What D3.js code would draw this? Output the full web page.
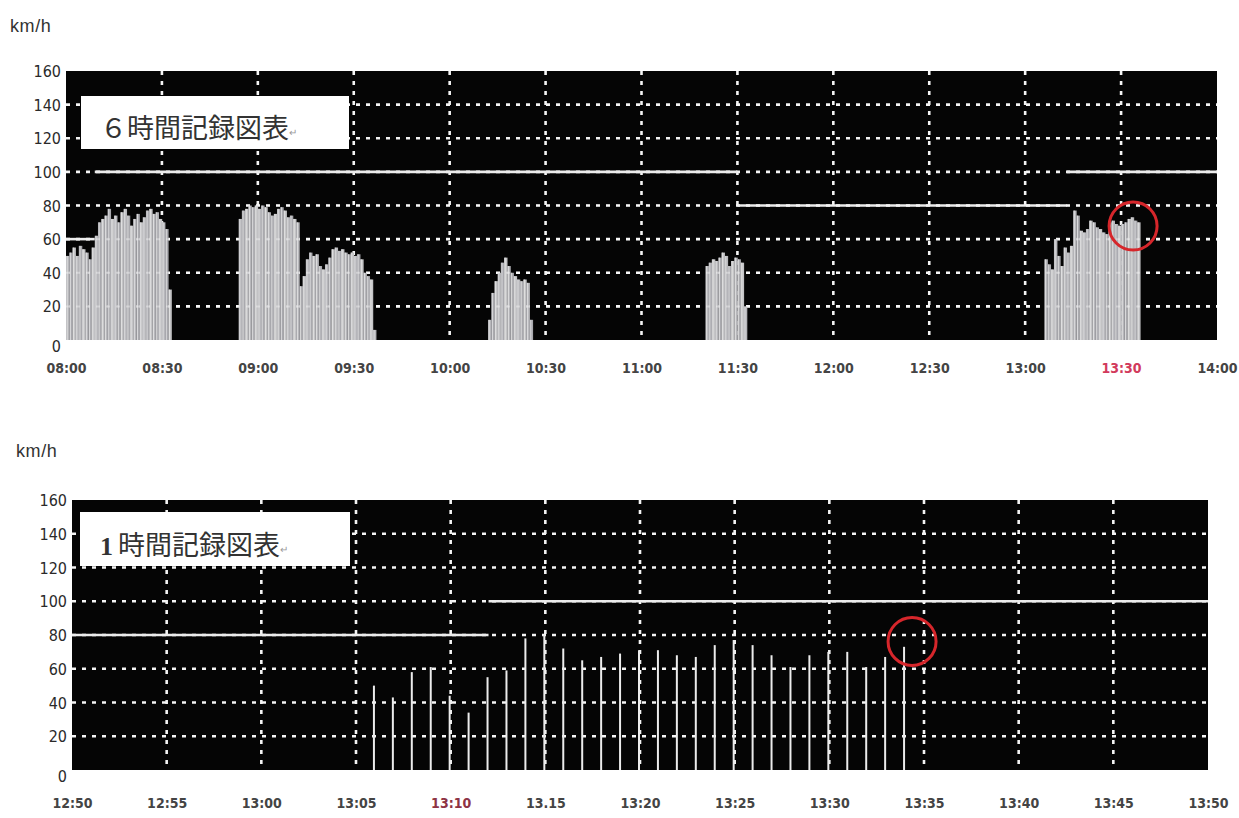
<!DOCTYPE html>
<html><head><meta charset="utf-8">
<script src="https://cdn.jsdelivr.net/npm/d3@7"></script>
<style>
html,body{margin:0;padding:0;background:#fff;}
svg{display:block;}
.tick text{font-family:"DejaVu Sans Condensed","DejaVu Sans",sans-serif;font-stretch:condensed;}
</style></head>
<body>
<svg id="c" width="1239" height="818"></svg>
<script>
// ---------- DATA ----------
const yTicks = [0, 20, 40, 60, 80, 100, 120, 140, 160];
const unitLabel = "km/h";

// 6-hour chart
const top6hTitle = "６時間記録図表";
const top6hTickLabels = ["08:00","08:30","09:00","09:30","10:00","10:30","11:00","11:30","12:00","12:30","13:00","13:30","14:00"];
const top6hRedLabels = ["13:30"];
// speed clusters, one value per minute, starting at the given time
const cluster1Start = "08:00";
const cluster1Speeds = [50,52,55,50,56,54,52,48,55,62,70,72,74,78,72,74,70,76,78,74,68,72,75,70,73,77,78,75,76,72,70,66,30];
const cluster2Start = "08:54";
const cluster2Speeds = [72,77,78,80,79,80,78,80,79,76,74,75,78,79,77,73,74,72,70,32,38,48,52,50,51,44,42,45,49,54,55,53,54,52,51,52,50,51,48,40,38,36,6];
const cluster3Start = "10:12";
const cluster3Speeds = [12,28,35,40,46,49,44,40,38,36,35,36,34,12];
const cluster4Start = "11:20";
const cluster4Speeds = [44,46,48,47,49,52,50,44,47,49,48,46,20];
const cluster5Start = "13:06";
const cluster5Speeds = [48,45,42,60,50,44,55,52,56,77,74,65,64,66,71,70,67,66,64,63,70,71,69,68,69,70,72,73,71,70];
// speed-limit steps [from, to, km/h]
const top6hLimitFrom = ["08:00","08:09","11:30","13:13"];
const top6hLimitTo   = ["08:09","11:30","13:13","14:00"];
const top6hLimitVal  = [60, 100, 80, 100];

// 1-hour chart
const bottom1hTitleNum = "1";
const bottom1hTitle = "時間記録図表";
const bottom1hTickLabels = ["12:50","12:55","13:00","13:05","13:10","13.15","13:20","13:25","13:30","13:35","13:40","13:45","13:50"];
const bottom1hRedLabels = ["13:10"];
const bottom1hStart = "13:06";
const bottom1hSpeeds = [50,43,58,61,44,34,55,59,78,80,72,65,67,69,71,71,68,67,74,77,74,68,61,68,70,70,61,67,73];
const bottom1hLimitFrom = ["12:50","13:12"];
const bottom1hLimitTo   = ["13:12","13:50"];
const bottom1hLimitVal  = [80, 100];

// highlighted points (time, km/h)
const top6hMarkTime = "13:30", top6hMarkSpeed = 69;
const bottom1hMarkTime = "13:34", bottom1hMarkSpeed = 75;

// ---------- DRAW ----------
const toMin = s => { const p = s.split(/[:.]/); return (+p[0]) * 60 + (+p[1]); };
const svg = d3.select("#c");

function panel(cfg) {
  const g = svg.append("g");
  const x = d3.scaleLinear().domain([toMin(cfg.labels[0]), toMin(cfg.labels[cfg.labels.length - 1])]).range([cfg.left, cfg.right]);
  const y = d3.scaleLinear().domain([0, 160]).range([cfg.bottom, cfg.top]);

  g.append("text").attr("x", cfg.unitX).attr("y", cfg.unitY).text(unitLabel)
    .attr("font-family", "Liberation Sans, Arial, sans-serif").attr("font-size", 18).attr("fill", "#333")
    .attr("letter-spacing", 0.6);

  g.append("rect").attr("x", cfg.left).attr("y", cfg.top).attr("width", cfg.right - cfg.left)
    .attr("height", cfg.bottom - cfg.top).attr("fill", "#050505");

  g.append("g").selectAll("line").data(yTicks.filter(v => v > 0 && v < 160)).join("line")
    .attr("x1", cfg.left).attr("x2", cfg.right).attr("y1", d => y(d)).attr("y2", d => y(d))
    .attr("stroke", "#f4f4f4").attr("stroke-width", 2.6).attr("stroke-dasharray", "4 6");
  g.append("g").selectAll("line").data(cfg.labels.slice(1, -1)).join("line")
    .attr("x1", d => x(toMin(d))).attr("x2", d => x(toMin(d))).attr("y1", cfg.top).attr("y2", cfg.bottom)
    .attr("stroke", "#f4f4f4").attr("stroke-width", 2.6).attr("stroke-dasharray", "4 6");

  g.append("g").selectAll("line").data(cfg.limVal).join("line")
    .attr("x1", (d, i) => x(toMin(cfg.limFrom[i]))).attr("x2", (d, i) => x(toMin(cfg.limTo[i])))
    .attr("y1", d => y(d)).attr("y2", d => y(d))
    .attr("stroke", "#ececec").attr("stroke-width", 2.6);

  const ya = d3.axisLeft(y).tickValues(yTicks).tickSize(0).tickPadding(0);
  const yg = g.append("g").attr("transform", `translate(${cfg.left - 5},0)`).call(ya);
  yg.select(".domain").remove();
  yg.selectAll("text").attr("font-size", 16).attr("fill", "#2a2a2a")
    .attr("font-family", "Liberation Sans, Arial, sans-serif")
    .attr("dy", d => d === 0 ? "0.7em" : "0.35em");

  const xa = d3.axisBottom(x).tickValues(cfg.labels.map(toMin)).tickSize(0).tickPadding(0)
    .tickFormat((d, i) => cfg.labels[i]);
  const xg = g.append("g").attr("transform", `translate(0,${cfg.labelY})`).call(xa);
  xg.select(".domain").remove();
  xg.selectAll("text").attr("font-size", 14).attr("font-weight", "bold").attr("dy", "0.35em")
    .attr("fill", (d, i) => cfg.red.includes(cfg.labels[i]) ? cfg.redColor : "#444");

  return { g, x, y };
}

// ----- top 6h chart -----
const T = panel({ left: 66, right: 1217, top: 71, bottom: 340, labels: top6hTickLabels, red: top6hRedLabels,
  redColor: "#d23a5c", labelY: 368, unitX: 10, unitY: 32,
  limFrom: top6hLimitFrom, limTo: top6hLimitTo, limVal: top6hLimitVal });

const clusters = [[cluster1Start, cluster1Speeds], [cluster2Start, cluster2Speeds], [cluster3Start, cluster3Speeds],
  [cluster4Start, cluster4Speeds], [cluster5Start, cluster5Speeds]];
const barG = T.g.append("g");
clusters.forEach(([s, vals]) => {
  const m0 = toMin(s);
  barG.append("g").selectAll("rect").data(vals).join("rect")
    .attr("x", (d, i) => T.x(m0 + i)).attr("width", (d, i) => T.x(m0 + i + 1) - T.x(m0 + i) + 0.3)
    .attr("y", d => T.y(d)).attr("height", d => T.y(0) - T.y(d))
    .attr("fill", (d, i) => ["#b7b7bb", "#a9a9ae", "#c4c4c6"][i % 3]);
  barG.append("g").selectAll("line").data(vals).join("line")
    .attr("x1", (d, i) => T.x(m0 + i) + 1.2).attr("x2", (d, i) => T.x(m0 + i) + 1.2)
    .attr("y1", d => T.y(d)).attr("y2", T.y(0))
    .attr("stroke", "#ebebeb").attr("stroke-width", 1).attr("opacity", 0.75);
});
T.g.append("g").selectAll("line").data([20, 40, 60, 80]).join("line")
  .attr("x1", 66).attr("x2", 1217).attr("y1", d => T.y(d)).attr("y2", d => T.y(d))
  .attr("stroke", "#fff").attr("stroke-width", 2).attr("stroke-dasharray", "4 6").attr("opacity", 0.35);

T.g.append("rect").attr("x", 81).attr("y", 96).attr("width", 268).attr("height", 53).attr("fill", "#fff");
const t1 = T.g.append("text").attr("x", 100).attr("y", 138)
  .attr("font-family", "Noto Sans CJK JP, sans-serif").attr("font-size", 27).attr("fill", "#333");
t1.append("tspan").text(top6hTitle);
t1.append("tspan").attr("font-size", 10).attr("fill", "#999").attr("dy", -2).text("↵");

T.g.append("circle").attr("cx", T.x(toMin(top6hMarkTime)) + 12).attr("cy", T.y(top6hMarkSpeed) + 2)
  .attr("r", 24).attr("fill", "none").attr("stroke", "#d6262b").attr("stroke-width", 3);

// ----- bottom 1h chart -----
const B = panel({ left: 72, right: 1208, top: 500, bottom: 770, labels: bottom1hTickLabels, red: bottom1hRedLabels,
  redColor: "#8e3344", labelY: 803, unitX: 16, unitY: 457,
  limFrom: bottom1hLimitFrom, limTo: bottom1hLimitTo, limVal: bottom1hLimitVal });

const b0 = toMin(bottom1hStart);
B.g.append("g").selectAll("line").data(bottom1hSpeeds).join("line")
  .attr("x1", (d, i) => B.x(b0 + i) - 1).attr("x2", (d, i) => B.x(b0 + i) - 1)
  .attr("y1", d => B.y(d)).attr("y2", B.y(0))
  .attr("stroke", "#ececec").attr("stroke-width", 2);

B.g.append("rect").attr("x", 80).attr("y", 512).attr("width", 270).attr("height", 54).attr("fill", "#fff");
const t2 = B.g.append("text").attr("x", 100).attr("y", 555)
  .attr("font-family", "Noto Sans CJK JP, sans-serif").attr("font-size", 27).attr("fill", "#333");
t2.append("tspan").attr("font-family", "Liberation Serif, serif").attr("font-weight", "bold").attr("font-size", 26).text(bottom1hTitleNum);
t2.append("tspan").attr("dx", 5).text(bottom1hTitle);
t2.append("tspan").attr("font-size", 10).attr("fill", "#999").attr("dy", -2).text("↵");

B.g.append("circle").attr("cx", B.x(toMin(bottom1hMarkTime)) + 7).attr("cy", B.y(bottom1hMarkSpeed) - 2)
  .attr("r", 24).attr("fill", "none").attr("stroke", "#d6262b").attr("stroke-width", 3);
</script>
</body></html>
